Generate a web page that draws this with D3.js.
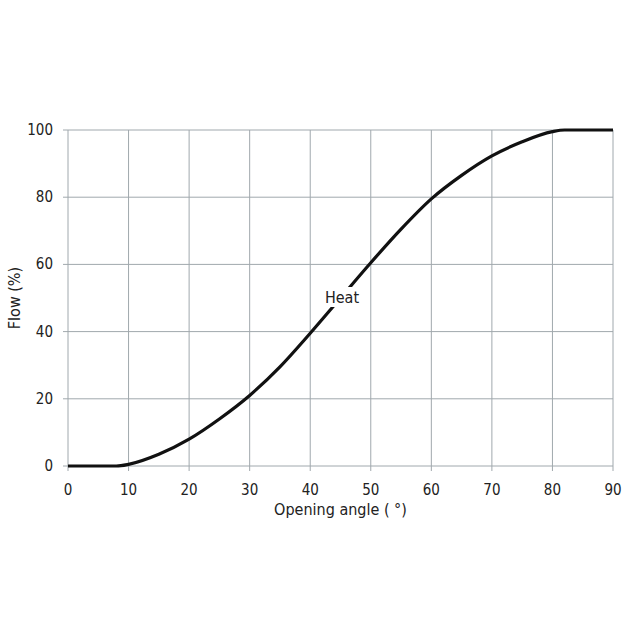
<!DOCTYPE html><html><head><meta charset="utf-8"><script src="https://cdn.jsdelivr.net/npm/d3@7"></script>
<style>body{margin:0;background:#fff}text{font-family:"DejaVu Sans Condensed","Liberation Sans",sans-serif}</style></head><body><svg id="c" width="640" height="640"></svg><script>
const angles=[0,8,10,15,20,25,30,35,40,45,50,55,60,65,70,75,80,82,90];
const flow=[0,0,0.5,3.5,8,14,21,29.5,39.5,50,60.5,70.5,79.5,86.5,92.3,96.5,99.5,100,100];
const xTicks=[0,10,20,30,40,50,60,70,80,90];
const yTicks=[0,20,40,60,80,100];
const svg=d3.select("#c");
const x=d3.scaleLinear().domain([0,90]).range([68,613]);
const y=d3.scaleLinear().domain([0,100]).range([466,130]);
const g=svg.append("g");
xTicks.forEach(t=>{g.append("line").attr("x1",x(t)).attr("x2",x(t)).attr("y1",y(100)).attr("y2",y(0)+5).attr("stroke","#a0a8ad").attr("stroke-width",1);
g.append("text").attr("x",x(t)).attr("y",495).attr("text-anchor","middle").attr("font-size",15).attr("fill","#222").text(t);});
yTicks.forEach(t=>{g.append("line").attr("x1",x(0)-5).attr("x2",x(90)).attr("y1",y(t)).attr("y2",y(t)).attr("stroke","#a0a8ad").attr("stroke-width",1);
g.append("text").attr("x",53).attr("y",y(t)+5).attr("text-anchor","end").attr("font-size",15).attr("fill","#222").text(t);});
const line=d3.line().x((d,i)=>x(angles[i])).y(d=>y(d)).curve(d3.curveMonotoneX);
svg.append("path").attr("d",line(flow)).attr("fill","none").attr("stroke","#111").attr("stroke-width",3.2);
svg.append("rect").attr("x",321).attr("y",287).attr("width",42).attr("height",20).attr("fill","#fff");
svg.append("text").attr("x",342).attr("y",303).attr("text-anchor","middle").attr("font-size",16).attr("fill","#222").text("Heat");
svg.append("text").attr("x",x(45)).attr("y",515).attr("text-anchor","middle").attr("font-size",16).attr("fill","#222").text("Opening angle ( °)");
svg.append("text").attr("transform",`translate(20,${y(50)}) rotate(-90)`).attr("text-anchor","middle").attr("font-size",16).attr("fill","#222").text("Flow  (%)");
</script></body></html>
